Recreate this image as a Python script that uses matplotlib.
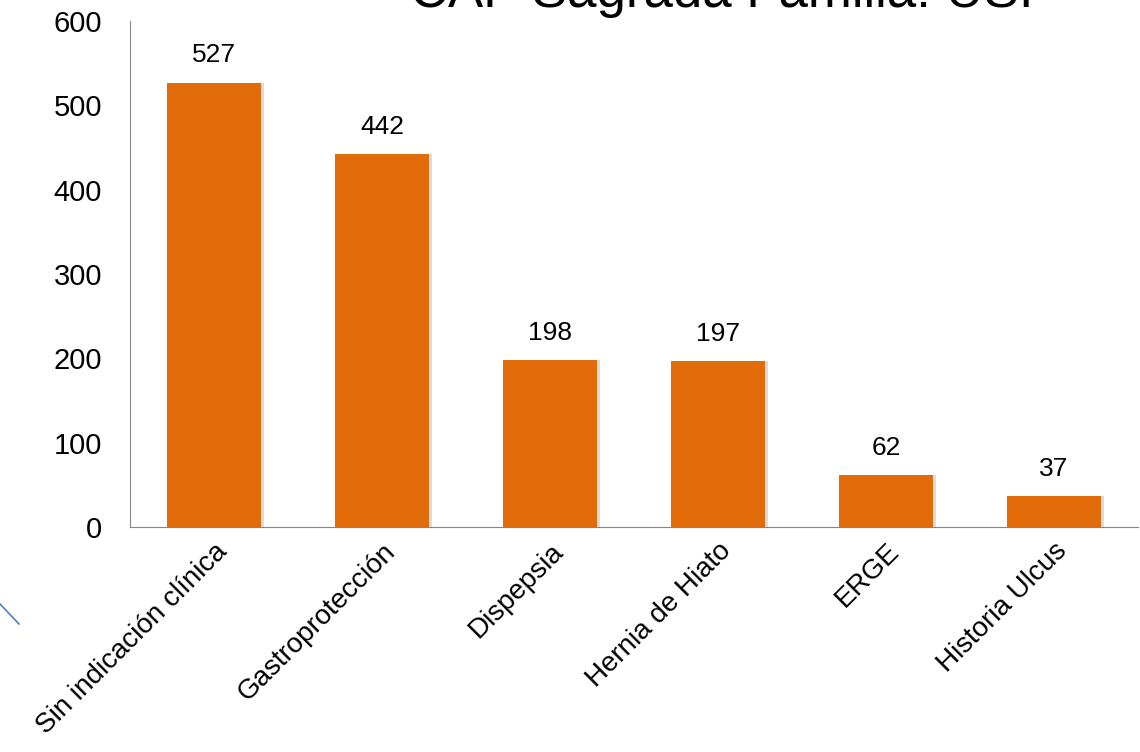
import matplotlib
matplotlib.use("Agg")
import matplotlib.pyplot as plt
from matplotlib.lines import Line2D
import numpy as np

categories = ["Sin indicación clínica", "Gastroprotección", "Dispepsia",
              "Hernia de Hiato", "ERGE", "Historia Ulcus"]
values = [527, 442, 198, 197, 62, 37]
title = "CAP Sagrada Familia: USI"

plt.rcParams['font.family'] = ['Liberation Sans', 'DejaVu Sans']

fig = plt.figure(figsize=(11.4, 7.52), dpi=100)
ax = fig.add_axes([130/1140, 225/752, 1008/1140, 506/752])

x = np.arange(len(categories))
# soft shadow behind bars
ax.bar(x + 0.02, values, width=0.56, color='#bbbbbb', alpha=0.5, zorder=1)
ax.bar(x, values, width=0.56, color='#E36C0A', zorder=2)

for xi, v in zip(x, values):
    ax.text(xi, v + 18, str(v), ha='center', va='bottom', fontsize=19)

ax.set_xlim(-0.5, 5.5)
ax.set_ylim(0, 600)
ax.set_yticks(range(0, 601, 100))
ax.tick_params(axis='y', length=0, labelsize=21, pad=20)
ax.tick_params(axis='x', length=0, labelsize=20, pad=8)
ax.set_xticks(x)
ax.set_xticklabels(categories, rotation=45, ha='right', rotation_mode='anchor')
for lbl in ax.get_xticklabels():
    lbl.set_x(lbl.get_position()[0] + 0.05)

for s in ['top', 'right']:
    ax.spines[s].set_visible(False)
ax.spines['left'].set_color('#868686')
ax.spines['bottom'].set_color('#868686')

fig.text(410/1140, 1 - 7/752, title, fontsize=38, ha='left', va='baseline')

# decorative blue line at lower left
fig.add_artist(Line2D([0/1140, 19/1140], [1 - 604/752, 1 - 624/752],
                      color='#4F81BD', linewidth=1.2, transform=fig.transFigure))

fig.savefig("out.png", dpi=100)
